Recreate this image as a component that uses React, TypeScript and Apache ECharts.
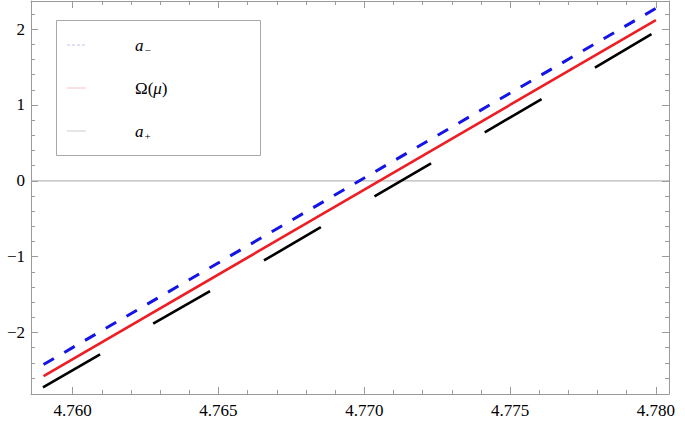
import React, { useEffect, useRef } from "react";
import * as echarts from "echarts";

// ---- data ----
const muRange = [4.759, 4.78];
const omegaValues = [-2.575, 2.12];
const aMinusValues = [-2.421, 2.275];
const aPlusStartMu = [4.75898, 4.76276, 4.76656, 4.77035, 4.77413, 4.77791];
const aPlusEndMu = [4.76094, 4.76471, 4.76851, 4.77229, 4.77608, 4.77985];
const aPlusStartVal = [-2.724, -1.882, -1.049, -0.203, 0.639, 1.495];
const aPlusEndVal = [-2.286, -1.453, -0.611, 0.232, 1.079, 1.934];

const xMajorTicks = [4.76, 4.765, 4.77, 4.775, 4.78];
const xMinorTicks = [
  4.761, 4.762, 4.763, 4.764, 4.766, 4.767, 4.768, 4.769, 4.771, 4.772, 4.773,
  4.774, 4.776, 4.777, 4.778, 4.779,
];
const yMajorTicks = [-2, -1, 0, 1, 2];
const yMinorTicks = [
  -2.6, -2.4, -2.2, -1.8, -1.6, -1.4, -1.2, -0.8, -0.6, -0.4, -0.2, 0.2, 0.4,
  0.6, 0.8, 1.2, 1.4, 1.6, 1.8, 2.2,
];

const X_MIN = 4.75857;
const X_MAX = 4.78045;
const Y_MIN = -2.81;
const Y_MAX = 2.372;

const FRAME = "#9a9a9a";
const FONT = "Liberation Serif";

export default function App() {
  const ref = useRef<HTMLDivElement>(null);
  useEffect(() => {
    if (!ref.current) return;
    const chart = echarts.init(ref.current, null, { renderer: "svg" });

    const mkX = (pos: string, major: boolean) => ({
      type: "value",
      gridIndex: 0,
      position: pos,
      min: X_MIN,
      max: X_MAX,
      axisLine: { show: major, onZero: false, lineStyle: { color: FRAME, width: 1 } },
      axisTick: {
        show: true,
        inside: true,
        length: major ? 7 : 4,
        customValues: major ? xMajorTicks : xMinorTicks,
        lineStyle: { color: FRAME, width: 1 },
      },
      axisLabel: { show: false },
      splitLine: { show: false },
    });
    const mkY = (pos: string, major: boolean) => ({
      type: "value",
      gridIndex: 0,
      position: pos,
      min: Y_MIN,
      max: Y_MAX,
      axisLine: { show: major, onZero: false, lineStyle: { color: FRAME, width: 1 } },
      axisTick: {
        show: true,
        inside: true,
        length: major ? 7 : 4,
        customValues: major ? yMajorTicks : yMinorTicks,
        lineStyle: { color: FRAME, width: 1 },
      },
      axisLabel: { show: false },
      splitLine: { show: false },
    });
    const fmtY = (v: number) => (v < 0 ? "\u2212" + Math.abs(v) : String(v));

    const aPlusSeries = aPlusStartMu.map((m, i) => ({
      type: "line",
      name: "a+",
      xAxisIndex: 0,
      yAxisIndex: 0,
      symbol: "none",
      silent: true,
      lineStyle: { color: "#000000", width: 2.6 },
      data: [
        [m, aPlusStartVal[i]],
        [aPlusEndMu[i], aPlusEndVal[i]],
      ],
    }));

    const legendYs = [45, 88, 131];
    const legendRich = {
      i: { fontFamily: FONT, fontStyle: "italic", fontSize: 17, fill: "#000", lineHeight: 22 },
      r: { fontFamily: FONT, fontSize: 17, fill: "#000", lineHeight: 22 },
      s: { fontFamily: FONT, fontSize: 11, fill: "#000", lineHeight: 22, verticalAlign: "bottom", padding: [0, 0, 1, 1] },
    };
    const legendTexts = ["{i|a}{s|\u2212}", "{r|Ω(}{i|μ}{r|)}", "{i|a}{s|+}"];

    chart.setOption({
      animation: false,
      backgroundColor: "#ffffff",
      grid: [
        { left: 31, right: 16, top: 1, bottom: 31, containLabel: false },
        // label-only grids aligned with the main scale
        { left: 72.7, right: 16, top: 1, bottom: 31, containLabel: false },
        { left: 31, right: 16, top: 1, bottom: 92.7, containLabel: false },
      ],
      xAxis: [
        mkX("bottom", true),
        mkX("bottom", false),
        mkX("top", true),
        mkX("top", false),
        {
          type: "value",
          gridIndex: 1,
          position: "bottom",
          min: 4.76,
          max: X_MAX,
          interval: 0.005,
          axisLine: { show: false, onZero: false },
          axisTick: { show: false },
          splitLine: { show: false },
          axisLabel: {
            show: true,
            showMaxLabel: false,
            formatter: (v: number) => v.toFixed(3),
            color: "#000",
            fontFamily: FONT,
            fontSize: 17,
            margin: 8,
          },
        },
        { type: "value", gridIndex: 2, show: false, min: 0, max: 1 },
      ],
      yAxis: [
        mkY("left", true),
        mkY("left", false),
        mkY("right", true),
        mkY("right", false),
        { type: "value", gridIndex: 1, show: false, min: 0, max: 1 },
        {
          type: "value",
          gridIndex: 2,
          position: "left",
          min: -2,
          max: Y_MAX,
          interval: 1,
          axisLine: { show: false, onZero: false },
          axisTick: { show: false },
          splitLine: { show: false },
          axisLabel: {
            show: true,
            showMaxLabel: false,
            formatter: fmtY,
            color: "#000",
            fontFamily: FONT,
            fontSize: 17,
            margin: 6,
          },
        },
      ],
      series: [
        {
          type: "line",
          name: "zero",
          xAxisIndex: 0,
          yAxisIndex: 0,
          symbol: "none",
          silent: true,
          lineStyle: { color: "#a8a8a8", width: 1 },
          data: [
            [X_MIN, 0],
            [X_MAX, 0],
          ],
          z: 1,
        },
        ...aPlusSeries,
        {
          type: "line",
          name: "Ω(μ)",
          xAxisIndex: 0,
          yAxisIndex: 0,
          symbol: "none",
          silent: true,
          lineStyle: { color: "#ee1d23", width: 2.6 },
          data: [
            [muRange[0], omegaValues[0]],
            [muRange[1], omegaValues[1]],
          ],
        },
        {
          type: "line",
          name: "a-",
          xAxisIndex: 0,
          yAxisIndex: 0,
          symbol: "none",
          silent: true,
          lineStyle: { color: "#1414e6", width: 3, type: [12, 12] },
          data: [
            [muRange[0], aMinusValues[0]],
            [muRange[1], aMinusValues[1]],
          ],
        },
      ],
      graphic: [
        {
          type: "rect",
          shape: { x: 56.5, y: 20.5, width: 204, height: 135 },
          style: { fill: "#ffffff", stroke: "#a8a8a8", lineWidth: 1 },
          z: 100,
        },
        {
          type: "line",
          shape: { x1: 67, y1: legendYs[0], x2: 86, y2: legendYs[0] },
          style: { stroke: "#c4c4ec", lineWidth: 1, lineDash: [3, 2] },
          z: 101,
        },
        {
          type: "line",
          shape: { x1: 67, y1: legendYs[1], x2: 86, y2: legendYs[1] },
          style: { stroke: "#f4c4c4", lineWidth: 1 },
          z: 101,
        },
        {
          type: "line",
          shape: { x1: 67, y1: legendYs[2], x2: 86, y2: legendYs[2] },
          style: { stroke: "#cccccc", lineWidth: 1 },
          z: 101,
        },
        ...legendTexts.map((t, k) => ({
          type: "text",
          x: 135,
          y: legendYs[k],
          style: {
            text: t,
            verticalAlign: "middle",
            rich: legendRich,
          },
          z: 101,
        })),
      ],
    });
    return () => chart.dispose();
  }, []);

  return (
    <div
      ref={ref}
      style={{ width: 685, height: 425, position: "absolute", left: 0, top: 0 }}
    />
  );
}
